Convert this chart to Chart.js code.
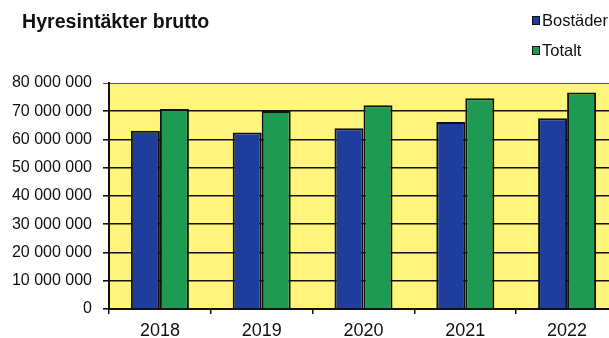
<!DOCTYPE html>
<html>
<head>
<meta charset="utf-8">
<script src="https://cdn.jsdelivr.net/npm/chart.js@4.4.1/dist/chart.umd.min.js"></script>
<style>
    body { margin: 0; background: #fff; overflow: hidden; width: 609px; height: 338px; position: relative; }
    #wrap { position: absolute; left: 0; top: 0; width: 630px; height: 338px; }
    #rubrik {
        position: absolute; left: 22px; top: 10px;
        font: bold 19.6px "Liberation Sans", Arial, sans-serif; color: #111;
    }
    .post {
        position: absolute; left: 532px;
        font: 16.5px "Liberation Sans", Arial, sans-serif; color: #111;
        white-space: nowrap;
    }
    .post span {
        display: inline-block; width: 6px; height: 7px; margin-right: 2px;
        border: 1px solid #111; vertical-align: 1px;
    }
</style>
</head>
<body>
<div id="wrap"><canvas id="chart1" width="630" height="338"></canvas></div>
<div id="rubrik">Hyresintäkter brutto</div>
<div class="post" style="top: 11px;"><span style="background:#1f3d9c"></span>Bostäder</div>
<div class="post" style="top: 41px;"><span style="background:#1f9a52"></span>Totalt</div>
<script>
const ar = ['2018', '2019', '2020', '2021', '2022'];
const bostader = [63100000, 62500000, 64000000, 66200000, 67500000];
const totalt = [70800000, 70100000, 72100000, 74600000, 76600000];
const yMax = 80000000;
const yStep = 10000000;

window.onload = function() {
    const ctx1 = document.getElementById('chart1').getContext('2d');

    // gul bakgrund i diagramytan
    const bakgrund = {
        id: 'bakgrund',
        beforeDraw(chart) {
            const a = chart.chartArea;
            const c = chart.ctx;
            c.save();
            c.fillStyle = '#fff47c';
            c.fillRect(a.left, a.top, a.right - a.left, a.bottom - a.top);
            c.restore();
        }
    };

    const data1 = {
        labels: ar,
        datasets: [{
            label: 'Bostäder',
            data: bostader,
            backgroundColor: '#1f3d9c',
            borderColor: '#111',
            borderWidth: 2,
        }, {
            label: 'Totalt',
            data: totalt,
            backgroundColor: '#1f9a52',
            borderColor: '#111',
            borderWidth: 2,
        }]
    };

    const config1 = {
        type: 'bar',
        data: data1,
        options: {
            responsive: false,
            animation: false,
            layout: { padding: { top: 83, right: 12, left: 0, bottom: 0 } },
            datasets: { bar: { categoryPercentage: 0.57, barPercentage: 1.0 } },
            plugins: {
                legend: { display: false },
                title: { display: false },
                tooltip: { enabled: false }
            },
            scales: {
                x: {
                    afterFit: s => { s.height = 29; },
                    grid: { drawOnChartArea: false, drawTicks: true, tickLength: 5, color: '#111', lineWidth: 1.5 },
                    border: { color: '#111', width: 2 },
                    ticks: { color: '#111', padding: 6, font: { family: 'Liberation Sans, Arial', size: 18 } }
                },
                y: {
                    min: 0,
                    max: yMax,
                    afterFit: s => { s.width = 109; },
                    grid: {
                        color: c => c.tick && c.tick.value === yMax ? '#555' : '#111',
                        lineWidth: c => c.tick && c.tick.value === yMax ? 1 : 1.6,
                        tickLength: 6
                    },
                    border: { color: '#111', width: 2 },
                    ticks: {
                        stepSize: yStep,
                        color: '#111',
                        padding: 11,
                        font: { family: 'Liberation Sans, Arial', size: 16 },
                        callback: v => String(v).replace(/\B(?=(\d{3})+(?!\d))/g, ' ')
                    }
                }
            }
        },
        plugins: [bakgrund]
    };

    new Chart(ctx1, config1);
};
</script>
</body>
</html>
